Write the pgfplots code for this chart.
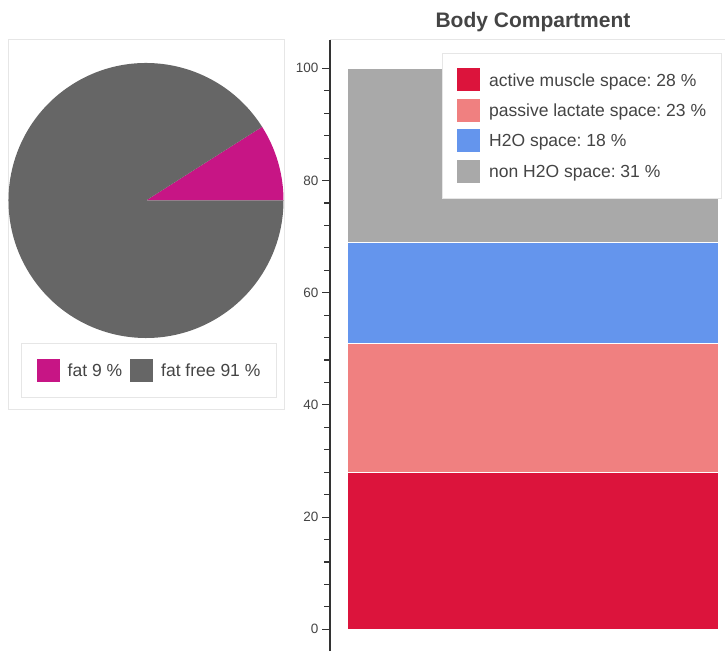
\documentclass[border=0pt]{standalone}
\usepackage{pgfplots}
\pgfplotsset{compat=1.18}
\usepackage{fontspec}
\setmainfont{Liberation Sans}
\frenchspacing
\definecolor{fatc}{HTML}{C71585}
\definecolor{freec}{HTML}{666666}
\definecolor{cA}{HTML}{DC143C}
\definecolor{cB}{HTML}{F08080}
\definecolor{cC}{HTML}{6495ED}
\definecolor{cD}{HTML}{A9A9A9}
\definecolor{txt}{HTML}{444444}
\definecolor{framec}{HTML}{E6E6E6}
\pgfplotsset{
  sqlegend/.style={legend image code/.code={\fill[##1, draw=none] (0pt,-11.5pt) rectangle (23pt,11.5pt);}},
}
\begin{document}
\begin{tikzpicture}[x=1pt,y=1pt]
\useasboundingbox (0,0) rectangle (725,653);
% pie panel frame
\draw[framec, line width=1pt] (8,243) rectangle (284,613);
\begin{axis}[at={(8.5pt,315pt)}, anchor=south west, scale only axis,
  width=275pt, height=275pt, xmin=-1, xmax=1, ymin=-1, ymax=1,
  hide axis, clip=false, sqlegend,
  legend columns=2,
  legend style={at={(0.0455,-0.0182)}, anchor=north west, draw=framec, fill=white,
    inner xsep=15.5pt, inner ysep=15.5pt, column sep=8pt,
    nodes={inner sep=0pt, text depth=0pt},
    font=\fontsize{17.5}{21}\selectfont, text=txt, cells={anchor=west}}]
  \addlegendimage{fill=fatc}
  \addlegendentry{fat 9 \%}
  \addlegendimage{fill=freec}
  \addlegendentry{fat free 91 \%}
  \fill[fatc] (axis cs:0,0) -- +(0:137.5pt) arc[start angle=0, end angle=9*3.6, radius=137.5pt] -- cycle;
  \fill[freec] (axis cs:0,0) -- +(9*3.6:137.5pt) arc[start angle=9*3.6, end angle=360, radius=137.5pt] -- cycle;
\end{axis}
% title
\node[anchor=base, font=\bfseries\fontsize{21}{25}\selectfont, text=txt] at (533,625.5) {Body Compartment};
\begin{axis}[at={(330pt,2pt)}, anchor=south west, scale only axis,
  width=395pt, height=611pt, xmin=330, xmax=725, ymin=-3.87, ymax=105.05,
  axis x line=none, axis y line=left, y axis line style={-, line width=1.2pt, color=black!80},
  xtick=\empty, ytick={0,20,40,60,80,100}, minor y tick num=4,
  tick align=outside, major tick length=8pt, minor tick length=6pt,
  tick style={line width=1.1pt, color=black!80},
  yticklabel style={font=\fontsize{13.5}{15}\selectfont, text=txt},
  /pgf/number format/assume math mode=true,
  ybar stacked, bar width=371,
  sqlegend,
  legend style={at={(0.2835,0.9787)}, anchor=north west, draw=framec, fill=white,
    inner xsep=15pt, inner ysep=15pt, column sep=9pt, row sep=7.5pt,
    nodes={inner sep=0pt, text depth=0pt},
    font=\fontsize{17.5}{21}\selectfont, text=txt, cells={anchor=west}},
  legend cell align=left]
  \addplot[fill=cA, draw=white, line width=1pt] coordinates {(532.5,28)};
  \addplot[fill=cB, draw=white, line width=1pt] coordinates {(532.5,23)};
  \addplot[fill=cC, draw=white, line width=1pt] coordinates {(532.5,18)};
  \addplot[fill=cD, draw=white, line width=1pt] coordinates {(532.5,31)};
  \legend{active muscle space: 28 \%, passive lactate space: 23 \%, H2O space: 18 \%, non H2O space: 31 \%}
  \draw[framec, line width=1pt] (rel axis cs:0,1) -- (rel axis cs:1,1);
\end{axis}
\end{tikzpicture}
\end{document}
